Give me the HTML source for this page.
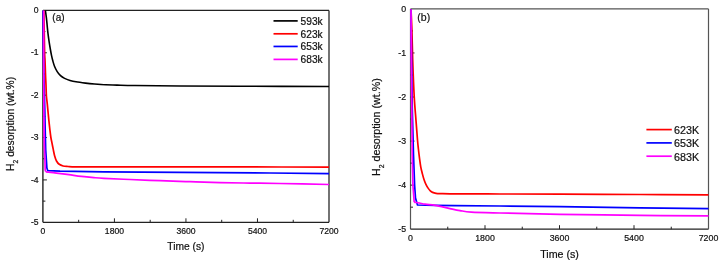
<!DOCTYPE html>
<html><head><meta charset="utf-8"><title>H2 desorption</title>
<style>
html,body{margin:0;padding:0;background:#fff;}
body{width:722px;height:266px;overflow:hidden;}
svg{display:block;font-family:"Liberation Sans", sans-serif;will-change:transform;}
text{fill:#111;stroke:#111;stroke-width:0.2px;}
</style></head>
<body>
<svg width="722" height="266" viewBox="0 0 722 266">
<rect x="0" y="0" width="722" height="266" fill="#fff"/>
<line x1="42.9" y1="10.4" x2="42.9" y2="222.3" stroke="#222" stroke-width="1.4"/>
<line x1="42.9" y1="222.3" x2="329.0" y2="222.3" stroke="#222" stroke-width="1.3"/>
<line x1="329.0" y1="10.4" x2="329.0" y2="222.3" stroke="#000" stroke-width="1.1"/>
<line x1="42.9" y1="10.4" x2="329.0" y2="10.4" stroke="#222" stroke-width="1.3"/>
<text x="38.6" y="13.00" text-anchor="end" font-size="8.6">0</text>
<text x="38.6" y="55.38" text-anchor="end" font-size="8.6">-1</text>
<text x="38.6" y="97.76" text-anchor="end" font-size="8.6">-2</text>
<text x="38.6" y="140.14" text-anchor="end" font-size="8.6">-3</text>
<text x="38.6" y="182.52" text-anchor="end" font-size="8.6">-4</text>
<text x="38.6" y="224.90" text-anchor="end" font-size="8.6">-5</text>
<text x="42.90" y="233.7" text-anchor="middle" font-size="8.6">0</text>
<text x="114.43" y="233.7" text-anchor="middle" font-size="8.6">1800</text>
<text x="185.95" y="233.7" text-anchor="middle" font-size="8.6">3600</text>
<text x="257.48" y="233.7" text-anchor="middle" font-size="8.6">5400</text>
<text x="329.00" y="233.7" text-anchor="middle" font-size="8.6">7200</text>
<text x="185.95" y="249.6" text-anchor="middle" font-size="10.2" textLength="37.2" lengthAdjust="spacingAndGlyphs">Time (s)</text>
<text transform="translate(13.9,170.9) rotate(-90)" x="0" y="0" font-size="10.2" textLength="94" lengthAdjust="spacingAndGlyphs">H<tspan font-size="6.73" dy="4.0">2</tspan><tspan dy="-4.0"> desorption (wt.%)</tspan></text>
<line x1="42.9" y1="31.59" x2="45.4" y2="31.59" stroke="#222" stroke-width="1"/>
<line x1="42.9" y1="52.78" x2="46.9" y2="52.78" stroke="#222" stroke-width="1"/>
<line x1="42.9" y1="73.97" x2="45.4" y2="73.97" stroke="#222" stroke-width="1"/>
<line x1="42.9" y1="95.16" x2="46.9" y2="95.16" stroke="#222" stroke-width="1"/>
<line x1="42.9" y1="116.35" x2="45.4" y2="116.35" stroke="#222" stroke-width="1"/>
<line x1="42.9" y1="137.54" x2="46.9" y2="137.54" stroke="#222" stroke-width="1"/>
<line x1="42.9" y1="158.73" x2="45.4" y2="158.73" stroke="#222" stroke-width="1"/>
<line x1="42.9" y1="179.92" x2="46.9" y2="179.92" stroke="#222" stroke-width="1"/>
<line x1="42.9" y1="201.11" x2="45.4" y2="201.11" stroke="#222" stroke-width="1"/>
<line x1="78.66" y1="222.3" x2="78.66" y2="219.8" stroke="#222" stroke-width="1"/>
<line x1="114.43" y1="222.3" x2="114.43" y2="218.3" stroke="#222" stroke-width="1"/>
<line x1="150.19" y1="222.3" x2="150.19" y2="219.8" stroke="#222" stroke-width="1"/>
<line x1="185.95" y1="222.3" x2="185.95" y2="218.3" stroke="#222" stroke-width="1"/>
<line x1="221.71" y1="222.3" x2="221.71" y2="219.8" stroke="#222" stroke-width="1"/>
<line x1="257.48" y1="222.3" x2="257.48" y2="218.3" stroke="#222" stroke-width="1"/>
<line x1="293.24" y1="222.3" x2="293.24" y2="219.8" stroke="#222" stroke-width="1"/>
<path d="M45.40,10.50 C45.57,11.73 46.10,15.35 46.40,17.90 C46.70,20.45 46.93,23.17 47.20,25.80 C47.47,28.43 47.68,31.07 48.00,33.70 C48.32,36.33 48.70,38.97 49.10,41.60 C49.50,44.23 50.00,47.20 50.40,49.50 C50.80,51.80 51.10,53.52 51.50,55.40 C51.90,57.28 52.30,59.00 52.80,60.80 C53.30,62.60 53.77,64.40 54.50,66.20 C55.23,68.00 56.20,70.02 57.20,71.60 C58.20,73.18 59.27,74.57 60.50,75.70 C61.73,76.83 63.02,77.62 64.60,78.40 C66.18,79.18 68.10,79.83 70.00,80.40 C71.90,80.97 73.42,81.35 76.00,81.80 C78.58,82.25 82.42,82.73 85.50,83.10 C88.58,83.47 91.12,83.72 94.50,84.00 C97.88,84.28 102.03,84.62 105.80,84.80 C109.57,84.98 112.23,84.98 117.10,85.10 C121.97,85.22 124.52,85.35 135.00,85.50 C145.48,85.65 160.83,85.87 180.00,86.00 C199.17,86.13 225.17,86.22 250.00,86.30 C274.83,86.38 315.83,86.47 329.00,86.50" fill="none" stroke="#000000" stroke-width="1.6" stroke-linejoin="round" stroke-linecap="butt"/>
<path d="M43.80,10.60 C43.87,13.83 44.07,23.10 44.20,30.00 C44.33,36.90 44.47,46.95 44.60,52.00 C44.73,57.05 44.88,57.55 45.00,60.30 C45.12,63.05 45.20,65.75 45.30,68.50 C45.40,71.25 45.48,74.05 45.60,76.80 C45.72,79.55 45.87,81.80 46.00,85.00 C46.13,88.20 46.18,92.80 46.40,96.00 C46.62,99.20 47.02,101.45 47.30,104.20 C47.58,106.95 47.83,109.73 48.10,112.50 C48.37,115.27 48.62,118.05 48.90,120.80 C49.18,123.55 49.48,126.30 49.80,129.00 C50.12,131.70 50.45,134.73 50.80,137.00 C51.15,139.27 51.50,140.57 51.90,142.60 C52.30,144.63 52.75,147.02 53.20,149.20 C53.65,151.38 54.05,153.73 54.60,155.70 C55.15,157.67 55.73,159.57 56.50,161.00 C57.27,162.43 58.10,163.47 59.20,164.30 C60.30,165.13 61.63,165.63 63.10,166.00 C64.57,166.37 65.85,166.37 68.00,166.50 C70.15,166.63 70.67,166.75 76.00,166.80 C81.33,166.85 82.67,166.80 100.00,166.80 C117.33,166.80 155.00,166.78 180.00,166.80 C205.00,166.82 225.17,166.85 250.00,166.90 C274.83,166.95 315.83,167.07 329.00,167.10" fill="none" stroke="#ff0000" stroke-width="1.7" stroke-linejoin="round" stroke-linecap="butt"/>
<path d="M43.10,10.60 L43.40,50.00 L44.00,80.00 L44.80,110.00 L45.20,130.00 L45.70,150.00 L46.50,162.00 L46.90,168.00 L47.70,170.60 L60.00,171.20 L104.00,171.80 L180.00,172.40 L270.00,173.00 L329.00,173.70" fill="none" stroke="#0000ff" stroke-width="1.7" stroke-linejoin="round" stroke-linecap="butt"/>
<path d="M43.60,10.60 L43.60,60.00 L43.90,115.00 L44.30,145.00 L44.90,160.00 L45.20,170.00 L45.80,171.80" fill="none" stroke="#ff00ff" stroke-width="1.7" stroke-linejoin="round" stroke-linecap="butt"/>
<path d="M45.80,171.80 C47.58,172.02 52.65,172.62 56.50,173.10 C60.35,173.58 64.75,174.15 68.90,174.70 C73.05,175.25 77.23,175.92 81.40,176.40 C85.57,176.88 90.13,177.28 93.90,177.60 C97.67,177.92 97.98,177.98 104.00,178.30 C110.02,178.62 120.67,179.10 130.00,179.50 C139.33,179.90 150.00,180.33 160.00,180.70 C170.00,181.07 180.00,181.38 190.00,181.70 C200.00,182.02 210.00,182.37 220.00,182.60 C230.00,182.83 240.00,182.95 250.00,183.10 C260.00,183.25 266.83,183.27 280.00,183.50 C293.17,183.73 320.83,184.33 329.00,184.50" fill="none" stroke="#ff00ff" stroke-width="1.7" stroke-linejoin="round" stroke-linecap="butt"/>
<line x1="273.5" y1="20.90" x2="297.7" y2="20.90" stroke="#000" stroke-width="1.7"/>
<text x="300.6" y="25.10" font-size="10.2">593k</text>
<line x1="273.5" y1="33.80" x2="297.7" y2="33.80" stroke="#ff0000" stroke-width="1.7"/>
<text x="300.6" y="37.90" font-size="10.2">623k</text>
<line x1="273.5" y1="46.45" x2="297.7" y2="46.45" stroke="#0000ff" stroke-width="1.7"/>
<text x="300.6" y="50.40" font-size="10.2">653k</text>
<line x1="273.5" y1="59.40" x2="297.7" y2="59.40" stroke="#ff00ff" stroke-width="1.7"/>
<text x="300.6" y="63.30" font-size="10.2">683k</text>
<text x="52.3" y="20.7" font-size="10">(a)</text>
<line x1="410.5" y1="8.9" x2="410.5" y2="229.2" stroke="#555" stroke-width="1.2"/>
<line x1="410.5" y1="229.2" x2="708.5" y2="229.2" stroke="#222" stroke-width="1.3"/>
<line x1="708.5" y1="8.9" x2="708.5" y2="229.2" stroke="#555" stroke-width="1.2"/>
<line x1="410.5" y1="8.9" x2="708.5" y2="8.9" stroke="#555" stroke-width="1.2"/>
<text x="406.2" y="11.70" text-anchor="end" font-size="8.8">0</text>
<text x="406.2" y="55.76" text-anchor="end" font-size="8.8">-1</text>
<text x="406.2" y="99.82" text-anchor="end" font-size="8.8">-2</text>
<text x="406.2" y="143.88" text-anchor="end" font-size="8.8">-3</text>
<text x="406.2" y="187.94" text-anchor="end" font-size="8.8">-4</text>
<text x="406.2" y="232.00" text-anchor="end" font-size="8.8">-5</text>
<text x="410.50" y="241.0" text-anchor="middle" font-size="8.8">0</text>
<text x="485.00" y="241.0" text-anchor="middle" font-size="8.8">1800</text>
<text x="559.50" y="241.0" text-anchor="middle" font-size="8.8">3600</text>
<text x="634.00" y="241.0" text-anchor="middle" font-size="8.8">5400</text>
<text x="708.50" y="241.0" text-anchor="middle" font-size="8.8">7200</text>
<text x="559.50" y="258.1" text-anchor="middle" font-size="10.5" textLength="38.7" lengthAdjust="spacingAndGlyphs">Time (s)</text>
<text transform="translate(380.4,176.0) rotate(-90)" x="0" y="0" font-size="10.4" textLength="97.7" lengthAdjust="spacingAndGlyphs">H<tspan font-size="6.86" dy="4.0">2</tspan><tspan dy="-4.0"> desorption (wt.%)</tspan></text>
<line x1="410.5" y1="30.93" x2="413.0" y2="30.93" stroke="#222" stroke-width="1"/>
<line x1="410.5" y1="52.96" x2="414.5" y2="52.96" stroke="#222" stroke-width="1"/>
<line x1="410.5" y1="74.99" x2="413.0" y2="74.99" stroke="#222" stroke-width="1"/>
<line x1="410.5" y1="97.02" x2="414.5" y2="97.02" stroke="#222" stroke-width="1"/>
<line x1="410.5" y1="119.05" x2="413.0" y2="119.05" stroke="#222" stroke-width="1"/>
<line x1="410.5" y1="141.08" x2="414.5" y2="141.08" stroke="#222" stroke-width="1"/>
<line x1="410.5" y1="163.11" x2="413.0" y2="163.11" stroke="#222" stroke-width="1"/>
<line x1="410.5" y1="185.14" x2="414.5" y2="185.14" stroke="#222" stroke-width="1"/>
<line x1="410.5" y1="207.17" x2="413.0" y2="207.17" stroke="#222" stroke-width="1"/>
<line x1="447.75" y1="229.2" x2="447.75" y2="226.7" stroke="#222" stroke-width="1"/>
<line x1="485.00" y1="229.2" x2="485.00" y2="225.2" stroke="#222" stroke-width="1"/>
<line x1="522.25" y1="229.2" x2="522.25" y2="226.7" stroke="#222" stroke-width="1"/>
<line x1="559.50" y1="229.2" x2="559.50" y2="225.2" stroke="#222" stroke-width="1"/>
<line x1="596.75" y1="229.2" x2="596.75" y2="226.7" stroke="#222" stroke-width="1"/>
<line x1="634.00" y1="229.2" x2="634.00" y2="225.2" stroke="#222" stroke-width="1"/>
<line x1="671.25" y1="229.2" x2="671.25" y2="226.7" stroke="#222" stroke-width="1"/>
<path d="M411.00,9.20 C411.15,12.67 411.62,21.53 411.90,30.00 C412.18,38.47 412.32,48.93 412.70,60.00 C413.08,71.07 413.65,86.30 414.20,96.40 C414.75,106.50 415.45,113.33 416.00,120.60 C416.55,127.87 417.10,135.27 417.50,140.00 C417.90,144.73 418.07,145.98 418.40,149.00 C418.73,152.02 419.10,155.08 419.50,158.10 C419.90,161.12 420.32,164.47 420.80,167.10 C421.28,169.73 421.87,171.83 422.40,173.90 C422.93,175.97 423.43,177.80 424.00,179.50 C424.57,181.20 425.12,182.67 425.80,184.10 C426.48,185.53 427.35,186.98 428.10,188.10 C428.85,189.22 429.55,190.08 430.30,190.80 C431.05,191.52 431.65,191.98 432.60,192.40 C433.55,192.82 434.50,193.10 436.00,193.30 C437.50,193.50 439.27,193.52 441.60,193.60 C443.93,193.68 440.27,193.73 450.00,193.80 C459.73,193.87 481.67,193.95 500.00,194.00 C518.33,194.05 536.67,194.02 560.00,194.10 C583.33,194.18 615.25,194.37 640.00,194.50 C664.75,194.63 697.08,194.83 708.50,194.90" fill="none" stroke="#ff0000" stroke-width="1.7" stroke-linejoin="round" stroke-linecap="butt"/>
<path d="M411.00,9.20 L411.60,60.00 L412.30,110.00 L413.50,155.00 L414.60,185.00 L415.50,198.00 L417.50,205.00 L435.00,205.30 L455.00,205.60 L500.00,206.00 L560.00,206.60 L640.00,207.90 L708.50,208.60" fill="none" stroke="#0000ff" stroke-width="1.7" stroke-linejoin="round" stroke-linecap="butt"/>
<path d="M411.00,9.20 L411.30,60.00 L411.80,110.00 L412.20,155.00 L412.90,185.00 L414.20,202.10" fill="none" stroke="#ff00ff" stroke-width="1.7" stroke-linejoin="round" stroke-linecap="butt"/>
<path d="M414.20,202.10 C416.00,202.45 421.48,203.65 425.00,204.20 C428.52,204.75 431.13,204.67 435.30,205.40 C439.47,206.13 445.88,207.73 450.00,208.60 C454.12,209.47 456.45,210.02 460.00,210.60 C463.55,211.18 464.63,211.70 471.30,212.10 C477.97,212.50 485.22,212.63 500.00,213.00 C514.78,213.37 536.67,213.90 560.00,214.30 C583.33,214.70 615.25,215.15 640.00,215.40 C664.75,215.65 697.08,215.73 708.50,215.80" fill="none" stroke="#ff00ff" stroke-width="1.7" stroke-linejoin="round" stroke-linecap="butt"/>
<line x1="646.4" y1="129.60" x2="671.8" y2="129.60" stroke="#ff0000" stroke-width="1.7"/>
<text x="674.1" y="133.95" font-size="10.75">623K</text>
<line x1="646.4" y1="142.90" x2="671.8" y2="142.90" stroke="#0000ff" stroke-width="1.7"/>
<text x="674.1" y="147.25" font-size="10.75">653K</text>
<line x1="646.4" y1="156.20" x2="671.8" y2="156.20" stroke="#ff00ff" stroke-width="1.7"/>
<text x="674.1" y="160.55" font-size="10.75">683K</text>
<text x="417.3" y="20.6" font-size="10.5">(b)</text>
</svg>
</body></html>
